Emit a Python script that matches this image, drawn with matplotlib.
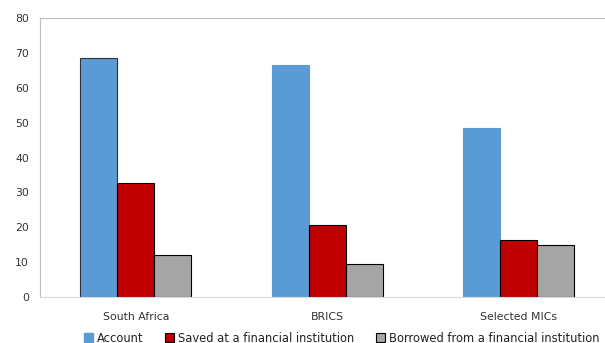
import numpy as np
import matplotlib.pyplot as plt
from matplotlib.patches import Patch

# Data
groups = ['South Africa', 'BRICS', 'Selected MICs']
account = [68.5, 66.5, 48.4]
saved = [32.7, 20.6, 16.3]
borrowed = [12.0, 9.5, 14.9]
series_names = ['Account', 'Saved at a financial institution', 'Borrowed from a financial institution']

c_blue = '#5B9BD5'
c_red = '#C00000'
c_gray = '#A5A5A5'

fig = plt.figure(figsize=(6.05, 3.43), dpi=100)
ax = fig.add_axes([40 / 605, 46 / 343, 565 / 605, 279 / 343])

x = np.arange(len(groups))
w = 0.193

# Account: only first bar drawn with a dark outline in the original
ax.bar(x - w, account, w, color=c_blue, edgecolor=['#333333', c_blue, c_blue], linewidth=0.8)
ax.bar(x, saved, w, color=c_red, edgecolor='black', linewidth=0.8)
ax.bar(x + w, borrowed, w, color=c_gray, edgecolor='black', linewidth=0.8)

ax.set_xlim(-0.5, -0.5 + 565 / 191.5)
ax.set_ylim(0, 80)
ax.set_yticks(np.arange(0, 81, 10))
ax.set_xticks(x)
ax.set_xticklabels(groups)
ax.tick_params(axis='both', length=0, labelsize=7.8, colors='#333333')
ax.tick_params(axis='x', pad=11)
ax.tick_params(axis='y', pad=8)

for side in ['left', 'top']:
    ax.spines[side].set_color('#BFBFBF')
    ax.spines[side].set_linewidth(0.8)
ax.spines['bottom'].set_color('#D9D9D9')
ax.spines['bottom'].set_linewidth(0.8)
ax.spines['right'].set_visible(False)

handles = [
    Patch(facecolor=c_blue, edgecolor=c_blue),
    Patch(facecolor=c_red, edgecolor='black', linewidth=0.8),
    Patch(facecolor=c_gray, edgecolor='black', linewidth=0.8),
]
fig.legend(handles, series_names, loc='center', bbox_to_anchor=(341.5 / 605, 1 - 338 / 343),
           ncol=3, frameon=False, fontsize=8.3, handlelength=0.8, handleheight=0.8,
           handletextpad=0.3, columnspacing=1.9, labelcolor='#222222',
           borderpad=0, borderaxespad=0)

fig.savefig('out.png', dpi=100)
